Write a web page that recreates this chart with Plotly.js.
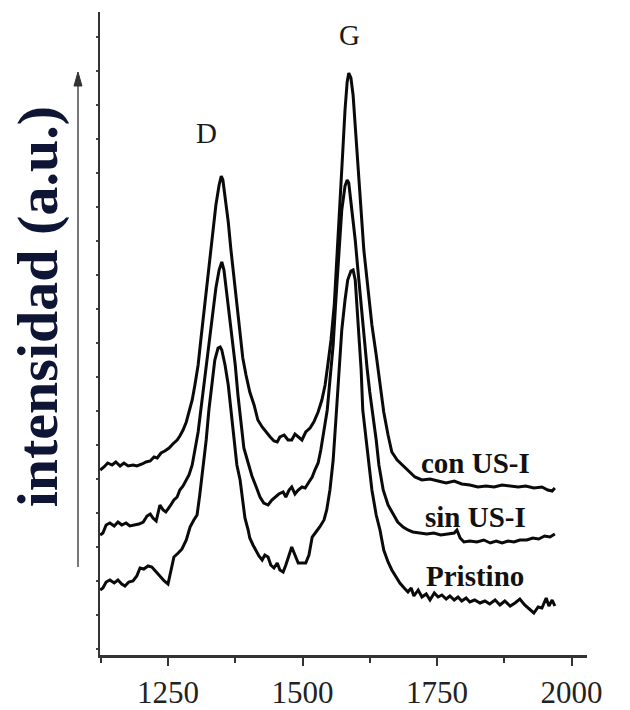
<!DOCTYPE html>
<html>
<head>
<meta charset="utf-8">
<script src="https://cdn.plot.ly/plotly-3.0.1.min.js"></script>
<style>html,body{margin:0;padding:0;background:#fff;}#chart{width:630px;height:710px;}</style>
</head>
<body>
<div id="chart"></div>
<script>
// Raman spectra (wavenumber, cm-1) vs intensity (a.u., offset curves)
const seriesNames = ["con US-I", "sin US-I", "Pristino"];
const peakLabels = ["D", "G"];
const xTickVals = [1250, 1500, 1750, 2000];

const conWn  = [1124,1131,1138,1146,1153,1161,1168,1176,1185,1192,1202,1209,1217,1224,1230,1237,1244,1252,1259,1267,1272,1278,1284,1289,1295,1300,1306,1311,1317,1322,1328,1334,1339,1345,1349,1352,1356,1362,1367,1373,1378,1384,1389,1395,1402,1410,1417,1425,1432,1440,1447,1453,1458,1466,1473,1480,1486,1492,1499,1506,1514,1521,1529,1536,1542,1547,1553,1559,1564,1570,1575,1579,1583,1586,1590,1594,1598,1603,1609,1614,1622,1629,1637,1644,1651,1659,1666,1676,1687,1698,1709,1722,1737,1752,1767,1782,1796,1811,1826,1841,1856,1871,1886,1901,1915,1930,1945,1956,1964,1969];
const conInt = [185,188,192,190,193,189,192,189,190,189,191,193,194,198,197,202,204,207,211,215,219,225,233,243,255,270,290,315,343,370,400,427,450,470,479,475,460,433,405,375,345,320,297,280,263,250,235,228,223,218,214,213,218,220,215,215,221,218,215,223,227,233,243,255,270,290,315,350,395,450,505,545,573,582,577,560,530,485,445,405,365,330,300,270,243,220,203,195,189,183,178,175,176,174,172,174,171,170,168,169,168,170,169,168,169,167,168,165,164,167];

const sinWn  = [1124,1129,1135,1142,1150,1157,1164,1172,1179,1189,1196,1204,1211,1217,1222,1228,1232,1235,1241,1246,1254,1261,1267,1272,1278,1284,1289,1295,1300,1306,1311,1317,1322,1328,1334,1339,1345,1350,1354,1358,1363,1369,1375,1380,1386,1391,1399,1406,1414,1421,1428,1436,1443,1449,1456,1464,1469,1475,1480,1486,1492,1499,1505,1512,1518,1523,1529,1534,1540,1546,1551,1557,1562,1568,1573,1579,1583,1586,1590,1594,1598,1603,1609,1614,1620,1625,1631,1637,1642,1650,1659,1668,1677,1687,1696,1705,1718,1731,1744,1757,1770,1782,1787,1793,1800,1811,1824,1837,1849,1860,1871,1882,1893,1904,1917,1928,1939,1950,1960,1969];
const sinInt = [120,122,130,132,129,133,130,132,129,130,131,133,139,141,137,134,143,150,145,143,149,155,158,165,169,175,180,190,205,223,245,270,295,320,345,367,385,393,385,367,340,315,290,260,230,207,192,179,168,158,152,150,155,158,161,163,158,165,168,161,165,168,167,173,178,185,192,205,223,245,275,310,355,405,445,469,475,472,455,433,415,385,350,315,287,263,240,215,190,165,150,142,133,128,125,123,122,121,122,120,121,122,125,117,113,114,113,115,112,114,112,114,113,115,115,117,116,119,118,121];

const priWn  = [1124,1129,1135,1142,1150,1157,1164,1170,1177,1185,1192,1198,1205,1213,1220,1228,1235,1243,1250,1256,1261,1269,1276,1284,1291,1298,1304,1309,1315,1321,1326,1332,1337,1343,1347,1350,1356,1362,1367,1373,1378,1384,1389,1393,1399,1402,1408,1414,1419,1425,1430,1436,1441,1447,1453,1458,1464,1469,1475,1480,1486,1492,1499,1506,1512,1518,1525,1532,1540,1545,1551,1557,1562,1568,1573,1579,1584,1590,1594,1598,1601,1605,1609,1612,1618,1623,1629,1637,1644,1651,1659,1666,1674,1681,1689,1696,1702,1707,1715,1722,1730,1737,1745,1752,1759,1767,1774,1782,1789,1796,1804,1811,1820,1830,1839,1848,1858,1867,1876,1886,1895,1904,1913,1923,1930,1938,1945,1953,1958,1964,1969];
const priInt = [65,67,73,75,72,75,71,69,73,74,79,87,86,89,88,83,78,74,71,85,98,102,106,115,128,135,140,160,185,215,245,273,295,307,308,305,290,270,243,215,190,175,150,137,125,117,110,104,99,95,100,98,90,87,92,85,83,90,99,108,100,92,92,92,100,118,123,128,135,145,165,195,235,280,325,355,375,384,385,375,350,315,285,245,215,193,165,140,125,105,93,85,78,72,67,63,67,59,65,58,61,55,62,58,60,56,59,55,58,54,57,53,55,52,54,51,55,50,54,49,52,56,50,45,42,48,47,57,49,55,49];

// series label positions (data coords) and peak label positions
const seriesLabelX = [1821, 1821, 1821];
const seriesLabelY = [192, 138, 79];
const peakLabelX = [1321, 1588];
const peakLabelY = [522, 620];

const lineStyle = {color: '#0a0a0a', width: 3};
const traces = [
  {x: conWn, y: conInt, name: seriesNames[0], mode: 'lines', line: lineStyle},
  {x: sinWn, y: sinInt, name: seriesNames[1], mode: 'lines', line: lineStyle},
  {x: priWn, y: priInt, name: seriesNames[2], mode: 'lines', line: lineStyle}
];

const serif = 'Liberation Serif, Times New Roman, serif';
const annotations = [];
seriesNames.forEach((n, i) => annotations.push({
  x: seriesLabelX[i], y: seriesLabelY[i], xref: 'x', yref: 'y', text: '<b>' + n + '</b>',
  showarrow: false, xanchor: 'center', yanchor: 'middle',
  font: {family: serif, size: 29, color: '#111'}
}));
peakLabels.forEach((p, i) => annotations.push({
  x: peakLabelX[i], y: peakLabelY[i], xref: 'x', yref: 'y', text: p,
  showarrow: false, xanchor: 'center', yanchor: 'middle',
  font: {family: serif, size: 29, color: '#1a1a1a'}
}));
annotations.push({
  x: -0.129, y: 0.541, xref: 'paper', yref: 'paper', text: '<b>intensidad (a.u.)</b>',
  textangle: -90, showarrow: false, xanchor: 'center', yanchor: 'middle',
  font: {family: serif, size: 58, color: '#0e1535'}
});

const layout = {
  width: 630, height: 710,
  margin: {l: 100, r: 43, t: 12, b: 55},
  paper_bgcolor: '#fff', plot_bgcolor: '#fff',
  showlegend: false,
  xaxis: {
    range: [1123.6, 2028.8], showline: true, linecolor: '#333', linewidth: 2.5,
    ticks: 'outside', ticklen: 8, tickwidth: 2, tickcolor: '#333',
    tickvals: xTickVals, showgrid: false, zeroline: false, automargin: false,
    minor: {ticks: 'outside', ticklen: 5, tickwidth: 2, tickcolor: '#333', tick0: 1375, dtick: 250, showgrid: false},
    tickfont: {family: serif, size: 31, color: '#222'}
  },
  yaxis: {
    range: [0, 643], showline: true, linecolor: '#333', linewidth: 2.5,
    ticks: 'outside', ticklen: 2, tickwidth: 1.5, tickcolor: '#444', tick0: 6, dtick: 34,
    showticklabels: false, showgrid: false, zeroline: false, automargin: false
  },
  annotations: annotations,
  shapes: [
    {type: 'line', xref: 'paper', yref: 'paper', x0: -0.0452, x1: -0.0452, y0: 0.137, y1: 0.89,
     line: {color: '#777', width: 2}},
    {type: 'path', xref: 'paper', yref: 'paper',
     path: 'M -0.0452 0.9067 L -0.0534 0.8849 L -0.0370 0.8849 Z',
     fillcolor: '#333', line: {color: '#333', width: 1}}
  ]
};

Plotly.newPlot('chart', traces, layout, {displayModeBar: false, staticPlot: true});
</script>
</body>
</html>
